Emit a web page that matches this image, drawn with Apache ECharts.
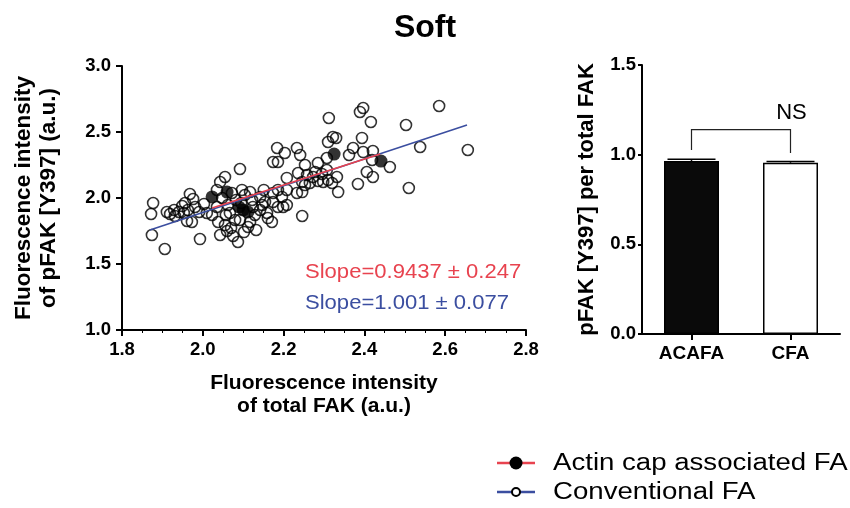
<!DOCTYPE html>
<html>
<head>
<meta charset="utf-8">
<script src="https://cdn.jsdelivr.net/npm/echarts@6/dist/echarts.min.js"></script>
<style>
  html, body { margin: 0; padding: 0; background: #fff; }
  #chart-container { width: 850px; height: 508px; }
</style>
</head>
<body>
<div id="chart-container"></div>
<script>
var dom = document.getElementById('chart-container');
var myChart = echarts.init(dom, null, { renderer: 'canvas' });

// conventional FA (open circles) - [total FAK, pFAK]
const cfaPoints = [
  [1.877, 1.962], [1.872, 1.879], [1.874, 1.720], [1.906, 1.614], [1.911, 1.894],
  [1.929, 1.909], [1.931, 1.864], [1.941, 1.894], [1.949, 1.939], [1.956, 1.962],
  [1.968, 2.030], [1.976, 1.992], [1.961, 1.826], [1.973, 1.818], [1.991, 1.894],
  [1.993, 1.689], [1.981, 1.932], [1.963, 1.909], [1.919, 1.879], [2.010, 1.886],
  [2.035, 2.061], [2.043, 2.121], [2.055, 2.159], [2.038, 1.818], [2.057, 1.871],
  [2.055, 1.795], [2.043, 1.720], [2.060, 1.750], [2.035, 1.932], [2.003, 1.955],
  [2.023, 1.871], [2.092, 2.220], [2.087, 1.667], [2.080, 1.833], [2.067, 1.886],
  [2.062, 1.947], [2.072, 2.038], [2.097, 2.061], [2.117, 2.045], [2.104, 2.023],
  [2.151, 2.061], [2.174, 2.038], [2.186, 2.061], [2.196, 2.008], [2.233, 2.038],
  [2.174, 1.970], [2.186, 1.932], [2.208, 1.947], [2.154, 1.970], [2.142, 1.909],
  [2.159, 1.886], [2.161, 1.848], [2.171, 1.818], [2.246, 1.864], [2.124, 1.932],
  [2.129, 1.871], [2.117, 1.818], [2.112, 1.780], [2.102, 1.742], [2.070, 1.773],
  [2.147, 1.947], [2.142, 2.008], [2.184, 2.379], [2.203, 2.341], [2.233, 2.379],
  [2.241, 2.326], [2.174, 2.273], [2.186, 2.273], [2.253, 2.250], [2.208, 2.152],
  [2.236, 2.189], [2.246, 2.121], [2.265, 2.114], [2.312, 2.606], [2.397, 2.682],
  [2.389, 2.652], [2.416, 2.576], [2.322, 2.462], [2.330, 2.455], [2.394, 2.455],
  [2.310, 2.424], [2.372, 2.379], [2.362, 2.326], [2.397, 2.348], [2.421, 2.356],
  [2.307, 2.303], [2.285, 2.265], [2.419, 2.288], [2.406, 2.197], [2.421, 2.159],
  [2.384, 2.106], [2.335, 2.045], [2.332, 2.159], [2.307, 2.212], [2.295, 2.182],
  [2.278, 2.197], [2.273, 2.159], [2.285, 2.129], [2.298, 2.121], [2.310, 2.136],
  [2.320, 2.114], [2.253, 2.098], [2.258, 2.174], [2.246, 2.045], [2.503, 2.553],
  [2.585, 2.697], [2.538, 2.386], [2.656, 2.364], [2.463, 2.235], [2.510, 2.076],
  [1.953, 1.886], [2.199, 1.932], [2.092, 1.833], [2.095, 1.962], [2.122, 1.985],
  [2.048, 2.000], [2.082, 1.985], [2.132, 1.758], [2.075, 1.712], [2.208, 2.061]
];

// actin cap associated FA (filled circles)
const acafaPoints = [
  [2.325, 2.333], [2.441, 2.280], [2.060, 2.045], [2.023, 2.008],
  [2.100, 1.909], [2.112, 1.894], [2.090, 1.932]
];

// regression lines (end points)
const cfaFit = [[1.869, 1.758], [2.654, 2.553]];
const acafaFit = [[2.023, 1.924], [2.439, 2.333]];

const slopeTexts = ['Slope=0.9437 \u00b1 0.247', 'Slope=1.001 \u00b1 0.077'];

// bar chart
const barCategories = ['ACAFA', 'CFA'];
const barMeans = [0.965, 0.955];
const barErrors = [0.010, 0.007];
const bracket = { from: 0, to: 1, top: 1.14, leftEnd: 1.026, rightEnd: 1.009, label: 'NS', labelY: 1.23 };

const legendNames = ['Actin cap associated FA', 'Conventional FA'];

const RED = '#e8434f';
const BLUE = '#3b4ea0';
const FONT = 'Liberation Sans, Arial, sans-serif';

const tickLabel = { color: '#000', fontFamily: FONT, fontWeight: 'bold', fontSize: 18.5 };
const axisLine = { show: true, onZero: false, lineStyle: { color: '#000', width: 2 } };

var option = {
  animation: false,
  title: {
    text: 'Soft',
    left: 'center',
    top: 7,
    textStyle: { fontFamily: FONT, fontWeight: 'bold', fontSize: 32, color: '#000' }
  },
  grid: [
    { left: 122, top: 66, width: 404, height: 264 },
    { left: 642, top: 65, width: 198, height: 269 }
  ],
  xAxis: [
    {
      type: 'value', gridIndex: 0, min: 1.8, max: 2.8, interval: 0.2,
      name: 'Fluorescence intensity\nof total FAK (a.u.)',
      nameLocation: 'middle', nameGap: 42,
      nameTextStyle: { fontFamily: FONT, fontWeight: 'bold', fontSize: 21, color: '#000', lineHeight: 23 },
      axisLine: axisLine,
      axisTick: { show: true, length: 6, lineStyle: { color: '#000', width: 2 } },
      minorTick: { show: true, splitNumber: 4, length: 3, lineStyle: { color: '#000', width: 1 } },
      axisLabel: Object.assign({ margin: 10, formatter: v => v.toFixed(1) }, tickLabel),
      splitLine: { show: false }
    },
    {
      type: 'category', gridIndex: 1, data: barCategories,
      axisLine: axisLine,
      axisTick: { show: true, alignWithLabel: true, length: 6, lineStyle: { color: '#000', width: 2 } },
      axisLabel: Object.assign({ margin: 10 }, tickLabel, { fontSize: 19 }),
      splitLine: { show: false }
    }
  ],
  yAxis: [
    {
      type: 'value', gridIndex: 0, min: 1.0, max: 3.0, interval: 0.5,
      name: 'Fluorescence intensity\nof pFAK [Y397] (a.u.)',
      nameLocation: 'middle', nameGap: 61,
      nameTextStyle: { fontFamily: FONT, fontWeight: 'bold', fontSize: 22.5, color: '#000', lineHeight: 25 },
      axisLine: axisLine,
      axisTick: { show: true, length: 6, lineStyle: { color: '#000', width: 2 } },
      axisLabel: Object.assign({ margin: 11, formatter: v => v.toFixed(1) }, tickLabel),
      splitLine: { show: false }
    },
    {
      type: 'value', gridIndex: 1, min: 0, max: 1.5, interval: 0.5,
      name: 'pFAK [Y397] per total FAK',
      nameLocation: 'middle', nameGap: 44,
      nameTextStyle: { fontFamily: FONT, fontWeight: 'bold', fontSize: 22, color: '#000' },
      axisLine: axisLine,
      axisTick: { show: true, length: 4, lineStyle: { color: '#000', width: 2 } },
      axisLabel: Object.assign({ margin: 6, formatter: v => v.toFixed(1) }, tickLabel),
      splitLine: { show: false }
    }
  ],
  series: [
    {
      name: legendNames[1], type: 'scatter', xAxisIndex: 0, yAxisIndex: 0,
      data: cfaPoints, symbol: 'circle', symbolSize: 11,
      itemStyle: { color: 'rgba(255,255,255,0)', borderColor: '#000', borderWidth: 1.6 },
      z: 2
    },
    {
      name: legendNames[0], type: 'scatter', xAxisIndex: 0, yAxisIndex: 0,
      data: acafaPoints, symbol: 'circle', symbolSize: 13,
      itemStyle: { color: '#000' },
      z: 3
    },
    {
      type: 'line', xAxisIndex: 0, yAxisIndex: 0, data: cfaFit,
      showSymbol: false, symbol: 'none',
      lineStyle: { color: BLUE, width: 1.6 }, z: 4
    },
    {
      type: 'line', xAxisIndex: 0, yAxisIndex: 0, data: acafaFit,
      showSymbol: false, symbol: 'none',
      lineStyle: { color: RED, width: 1.6 }, z: 5
    },
    {
      type: 'bar', xAxisIndex: 1, yAxisIndex: 1, barWidth: 55,
      data: barMeans.map((v, i) => ({
        value: v,
        itemStyle: i === 0
          ? { color: '#0a0a0a', borderColor: '#000', borderWidth: 1.5 }
          : { color: '#fff', borderColor: '#000', borderWidth: 1.5 }
      }))
    },
    {
      type: 'custom', xAxisIndex: 1, yAxisIndex: 1,
      data: barMeans.map((v, i) => [i, v, v + barErrors[i]]),
      renderItem: function (params, api) {
        const top = api.coord([api.value(0), api.value(2)]);
        const mid = api.coord([api.value(0), api.value(1)]);
        const half = 24;
        return {
          type: 'group',
          children: [
            { type: 'line', shape: { x1: top[0], y1: top[1], x2: mid[0], y2: mid[1] }, style: { stroke: '#000', lineWidth: 1.5 } },
            { type: 'line', shape: { x1: top[0] - half, y1: top[1], x2: top[0] + half, y2: top[1] }, style: { stroke: '#000', lineWidth: 1.5 } }
          ]
        };
      },
      z: 6
    },
    {
      type: 'custom', xAxisIndex: 1, yAxisIndex: 1,
      data: [[bracket.from, bracket.to, bracket.top, bracket.leftEnd, bracket.rightEnd, bracket.labelY]],
      renderItem: function (params, api) {
        const a = api.coord([api.value(0), api.value(3)]);
        const b = api.coord([api.value(0), api.value(2)]);
        const c = api.coord([api.value(1), api.value(2)]);
        const d = api.coord([api.value(1), api.value(4)]);
        const t = api.coord([api.value(1), api.value(5)]);
        return {
          type: 'group',
          children: [
            { type: 'polyline', shape: { points: [a, b, c, d] }, style: { stroke: '#222', lineWidth: 1.2, fill: 'none' } },
            { type: 'text', x: t[0] + 1, y: t[1], style: { text: bracket.label, fill: '#000', font: '22px ' + FONT, align: 'center', verticalAlign: 'middle' } }
          ]
        };
      },
      z: 6
    }
  ],
  graphic: [
    { type: 'text', x: 305, y: 262, scaleX: 1.05, style: { text: slopeTexts[0], fill: RED, font: '21px ' + FONT } },
    { type: 'text', x: 305, y: 293, scaleX: 1.05, style: { text: slopeTexts[1], fill: BLUE, font: '21px ' + FONT } },
    // legend
    { type: 'line', shape: { x1: 497, y1: 463, x2: 535, y2: 463 }, style: { stroke: RED, lineWidth: 2.5 } },
    { type: 'circle', shape: { cx: 516, cy: 463, r: 6.5 }, style: { fill: '#000' } },
    { type: 'text', x: 553, y: 452, scaleX: 1.2, style: { text: legendNames[0], fill: '#000', font: '23px ' + FONT } },
    { type: 'line', shape: { x1: 497, y1: 492, x2: 535, y2: 492 }, style: { stroke: BLUE, lineWidth: 2.5 } },
    { type: 'circle', shape: { cx: 516, cy: 492, r: 4 }, style: { fill: '#fff', stroke: '#000', lineWidth: 2 } },
    { type: 'text', x: 553, y: 481, scaleX: 1.2, style: { text: legendNames[1], fill: '#000', font: '23px ' + FONT } }
  ]
};

myChart.setOption(option);
window.addEventListener('resize', myChart.resize);
</script>
</body>
</html>
